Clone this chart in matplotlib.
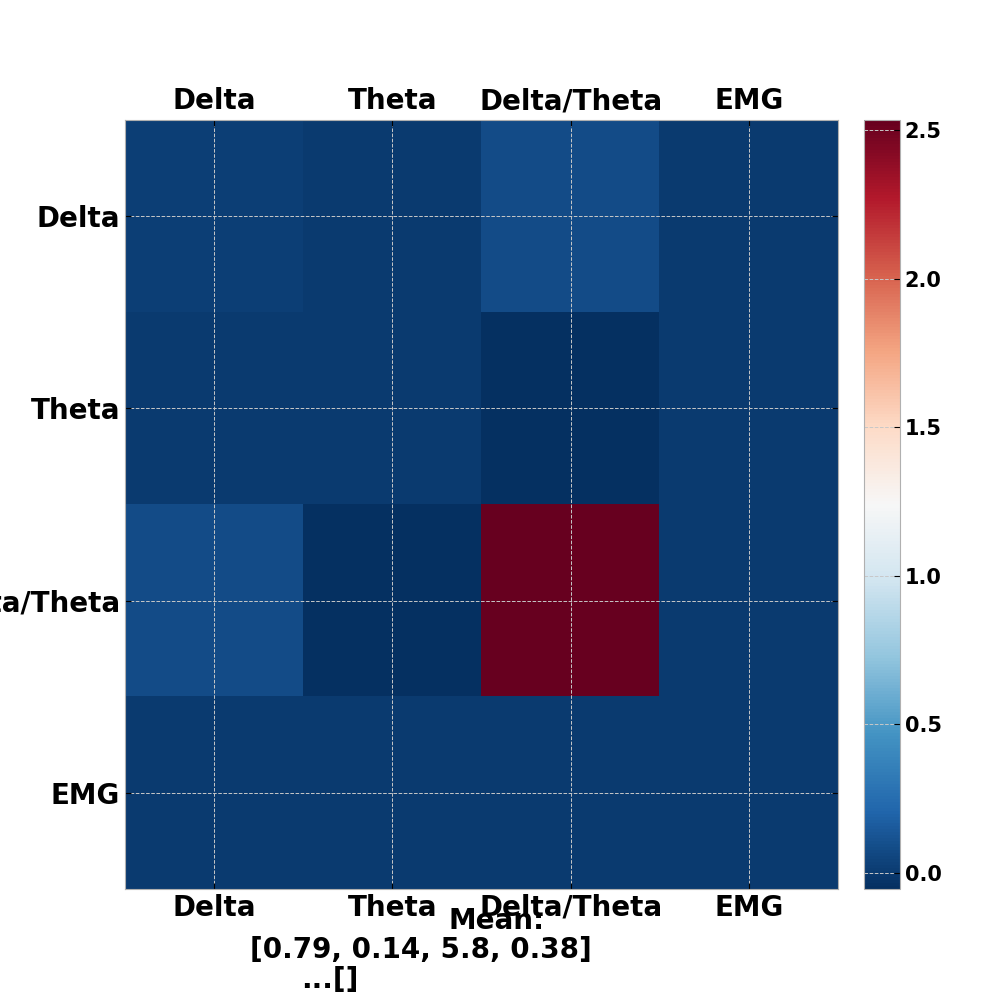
import matplotlib
matplotlib.use("Agg")
import matplotlib.pyplot as plt
import numpy as np

labels = ["Delta", "Theta", "Delta/Theta", "EMG"]
row_delta = [0.02, 0.0, 0.085, 0.0]
row_theta = [0.0, 0.0, -0.054, 0.0]
row_ratio = [0.085, -0.054, 2.534, 0.0]
row_emg = [0.0, 0.0, 0.0, 0.0]
cbar_ticks = [0.0, 0.5, 1.0, 1.5, 2.0, 2.5]
mean_lines = ["Mean:", "[0.79, 0.14, 5.8, 0.38]", "...[]"]

data = np.array([row_delta, row_theta, row_ratio, row_emg])

plt.rcParams.update({
    "grid.linestyle": "--",
    "grid.color": "#c8c8c8",
    "grid.linewidth": 0.7,
    "axes.edgecolor": "#b0b0b0",
    "xtick.direction": "in",
    "ytick.direction": "in",
})

fig = plt.figure(figsize=(10, 10), dpi=100)
ax = fig.add_axes([0.125, 0.111, 0.713, 0.769])
cax = fig.add_axes([0.864, 0.111, 0.036, 0.769])

im = ax.imshow(data, cmap="RdBu_r", aspect="auto",
               vmin=data.min(), vmax=data.max(), interpolation="nearest")
ax.set_xticks(range(len(labels)))
ax.set_yticks(range(len(labels)))
ax.set_xticklabels(labels, fontsize=20, fontweight="bold")
ax.set_yticklabels(labels, fontsize=20, fontweight="bold")
ax.tick_params(top=True, labeltop=True, bottom=True, labelbottom=True,
               left=True, right=True, length=4, color="black")
ax.grid(True)
for s in ax.spines.values():
    s.set_color("#b0b0b0")

cb = fig.colorbar(im, cax=cax)
cb.set_ticks(cbar_ticks)
cb.ax.tick_params(direction="in", length=4, color="black")
for t in cb.ax.get_yticklabels():
    t.set_fontsize(15)
    t.set_fontweight("bold")
cb.ax.grid(True, axis="y")
cb.outline.set_edgecolor("#b0b0b0")

fig.text(0.497, 1 - 0.929, mean_lines[0], ha="center", va="baseline",
         fontsize=20, fontweight="bold")
fig.text(0.421, 1 - 0.958, mean_lines[1], ha="center", va="baseline",
         fontsize=20, fontweight="bold")
fig.text(0.330, 1 - 0.988, mean_lines[2], ha="center", va="baseline",
         fontsize=20, fontweight="bold")

fig.savefig("out.png", dpi=100)
